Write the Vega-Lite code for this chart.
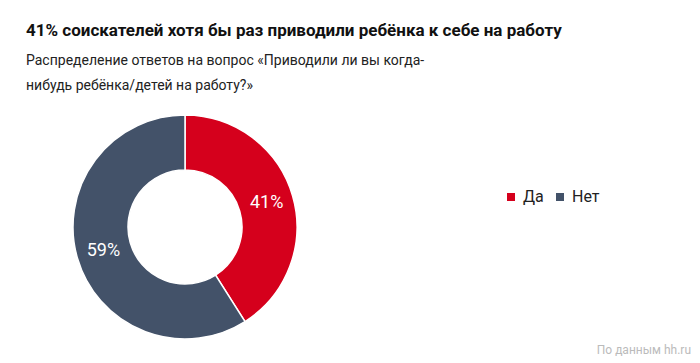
{
  "$schema": "https://vega.github.io/schema/vega-lite/v6.json",
  "width": 370,
  "height": 224,
  "autosize": "none",
  "padding": {"top": 115, "left": 0, "right": 330, "bottom": 24},
  "background": "white",
  "config": {"view": {"stroke": null}, "font": "Roboto"},
  "title": {
    "text": "41% соискателей хотя бы раз приводили ребёнка к себе на работу",
    "subtitle": ["Распределение ответов на вопрос «Приводили ли вы когда-", "нибудь ребёнка/детей на работу?»"],
    "anchor": "start",
    "frame": "group",
    "dx": 26,
    "offset": 18,
    "font": "Roboto",
    "fontSize": 17,
    "fontWeight": "bold",
    "color": "#111111",
    "subtitleFont": "Roboto",
    "subtitleFontSize": 14,
    "subtitleColor": "#222222",
    "subtitleLineHeight": 25,
    "subtitlePadding": 14
  },
  "layer": [
    {
      "data": {"values": [
        {"answer": "Да", "value": 41, "order": 1, "label": "41%"},
        {"answer": "Нет", "value": 59, "order": 2, "label": "59%"}
      ]},
      "layer": [
        {
          "mark": {"type": "arc", "innerRadius": 57, "outerRadius": 112, "stroke": "white", "strokeWidth": 1.5},
          "encoding": {
            "theta": {"field": "value", "type": "quantitative", "stack": true},
            "order": {"field": "order", "type": "quantitative"},
            "color": {
              "field": "answer",
              "type": "nominal",
              "scale": {"domain": ["Да", "Нет"], "range": ["#d5001c", "#435269"]},
              "legend": {
                "title": null,
                "orient": "none",
                "direction": "horizontal",
                "legendX": 503,
                "legendY": 74,
                "symbolType": "square",
                "symbolSize": 64,
                "symbolStrokeWidth": 0,
                "labelFont": "Roboto",
                "labelFontSize": 16,
                "labelColor": "#222222",
                "columnPadding": 8,
                "labelOffset": 4
              }
            }
          }
        },
        {
          "mark": {"type": "text", "radius": 85, "fontSize": 18, "color": "white", "font": "Roboto"},
          "encoding": {
            "theta": {"field": "value", "type": "quantitative", "stack": true},
            "order": {"field": "order", "type": "quantitative"},
            "text": {"field": "label", "type": "nominal"}
          }
        }
      ]
    },
    {
      "data": {"values": [{"note": "По данным hh.ru"}]},
      "mark": {"type": "text", "align": "right", "baseline": "middle", "fontSize": 12, "color": "#bbbbbb", "font": "Roboto"},
      "encoding": {
        "text": {"field": "note", "type": "nominal"},
        "x": {"value": 691},
        "y": {"value": 235}
      }
    }
  ]
}
